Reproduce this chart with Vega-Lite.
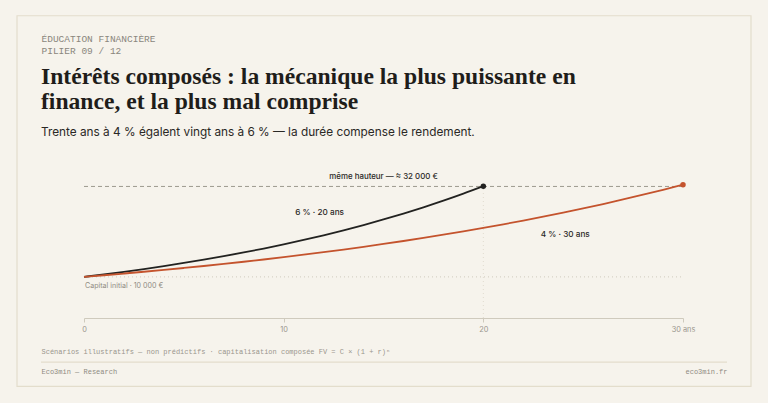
{
  "$schema": "https://vega.github.io/schema/vega-lite/v6.json",
  "width": 599,
  "height": 148,
  "autosize": {"type": "none"},
  "padding": {"left": 84, "top": 170, "right": 85, "bottom": 85},
  "background": "#f6f3ec",
  "config": {"view": {"stroke": null}, "font": "Inter"},
  "title": {
    "text": ["Intérêts composés : la mécanique la plus puissante en", "finance, et la plus mal comprise"],
    "subtitle": "Trente ans à 4 % égalent vingt ans à 6 % — la durée compense le rendement.",
    "anchor": "start",
    "frame": "group",
    "dx": -43,
    "dy": 144,
    "font": "Liberation Serif",
    "fontSize": 23.6,
    "fontWeight": "bold",
    "color": "#1f1d1a",
    "lineHeight": 25,
    "subtitleFont": "Inter",
    "subtitleFontSize": 11.8,
    "subtitleColor": "#2a2825",
    "subtitlePadding": 14,
    "offset": 20
  },
  "datasets": {
    "one": [{}],
    "curves": [
      {"series": "6 % · 20 ans", "year": 0, "value": 10000},
      {"series": "6 % · 20 ans", "year": 1, "value": 10600},
      {"series": "6 % · 20 ans", "year": 2, "value": 11236},
      {"series": "6 % · 20 ans", "year": 3, "value": 11910},
      {"series": "6 % · 20 ans", "year": 4, "value": 12625},
      {"series": "6 % · 20 ans", "year": 5, "value": 13382},
      {"series": "6 % · 20 ans", "year": 6, "value": 14185},
      {"series": "6 % · 20 ans", "year": 7, "value": 15036},
      {"series": "6 % · 20 ans", "year": 8, "value": 15938},
      {"series": "6 % · 20 ans", "year": 9, "value": 16895},
      {"series": "6 % · 20 ans", "year": 10, "value": 17908},
      {"series": "6 % · 20 ans", "year": 11, "value": 18983},
      {"series": "6 % · 20 ans", "year": 12, "value": 20122},
      {"series": "6 % · 20 ans", "year": 13, "value": 21329},
      {"series": "6 % · 20 ans", "year": 14, "value": 22609},
      {"series": "6 % · 20 ans", "year": 15, "value": 23966},
      {"series": "6 % · 20 ans", "year": 16, "value": 25404},
      {"series": "6 % · 20 ans", "year": 17, "value": 26928},
      {"series": "6 % · 20 ans", "year": 18, "value": 28543},
      {"series": "6 % · 20 ans", "year": 19, "value": 30256},
      {"series": "6 % · 20 ans", "year": 20, "value": 32071},
      {"series": "4 % · 30 ans", "year": 0, "value": 10000},
      {"series": "4 % · 30 ans", "year": 1, "value": 10400},
      {"series": "4 % · 30 ans", "year": 2, "value": 10816},
      {"series": "4 % · 30 ans", "year": 3, "value": 11249},
      {"series": "4 % · 30 ans", "year": 4, "value": 11699},
      {"series": "4 % · 30 ans", "year": 5, "value": 12167},
      {"series": "4 % · 30 ans", "year": 6, "value": 12653},
      {"series": "4 % · 30 ans", "year": 7, "value": 13159},
      {"series": "4 % · 30 ans", "year": 8, "value": 13686},
      {"series": "4 % · 30 ans", "year": 9, "value": 14233},
      {"series": "4 % · 30 ans", "year": 10, "value": 14802},
      {"series": "4 % · 30 ans", "year": 11, "value": 15395},
      {"series": "4 % · 30 ans", "year": 12, "value": 16010},
      {"series": "4 % · 30 ans", "year": 13, "value": 16651},
      {"series": "4 % · 30 ans", "year": 14, "value": 17317},
      {"series": "4 % · 30 ans", "year": 15, "value": 18009},
      {"series": "4 % · 30 ans", "year": 16, "value": 18730},
      {"series": "4 % · 30 ans", "year": 17, "value": 19479},
      {"series": "4 % · 30 ans", "year": 18, "value": 20258},
      {"series": "4 % · 30 ans", "year": 19, "value": 21068},
      {"series": "4 % · 30 ans", "year": 20, "value": 21911},
      {"series": "4 % · 30 ans", "year": 21, "value": 22788},
      {"series": "4 % · 30 ans", "year": 22, "value": 23699},
      {"series": "4 % · 30 ans", "year": 23, "value": 24647},
      {"series": "4 % · 30 ans", "year": 24, "value": 25633},
      {"series": "4 % · 30 ans", "year": 25, "value": 26658},
      {"series": "4 % · 30 ans", "year": 26, "value": 27725},
      {"series": "4 % · 30 ans", "year": 27, "value": 28834},
      {"series": "4 % · 30 ans", "year": 28, "value": 29987},
      {"series": "4 % · 30 ans", "year": 29, "value": 31187},
      {"series": "4 % · 30 ans", "year": 30, "value": 32434}
    ],
    "ends": [
      {"series": "6 % · 20 ans", "year": 20, "value": 32071},
      {"series": "4 % · 30 ans", "year": 30, "value": 32434}
    ]
  },
  "layer": [
    {
      "data": {"name": "one"},
      "mark": {"type": "rect", "filled": false, "stroke": "#e3ddcc", "strokeWidth": 1.2},
      "encoding": {
        "x": {"datum": -3.355, "type": "quantitative", "axis": null},
        "x2": {"datum": 33.405},
        "y": {"datum": 73520, "type": "quantitative", "axis": null},
        "y2": {"datum": -16610}
      }
    },
    {
      "data": {"name": "one"},
      "mark": {"type": "rule", "stroke": "#e3ddcc", "strokeWidth": 1.2},
      "encoding": {
        "x": {"datum": -2.153, "type": "quantitative", "axis": null},
        "x2": {"datum": 32.203},
        "y": {"datum": -10750, "type": "quantitative", "axis": null}
      }
    },
    {
      "data": {"name": "one"},
      "mark": {"type": "rule", "stroke": "#cfcabd", "strokeWidth": 1, "strokeDash": [1, 3]},
      "encoding": {
        "x": {"datum": 0, "type": "quantitative", "axis": null},
        "x2": {"datum": 30},
        "y": {"datum": 10000, "type": "quantitative", "axis": null}
      }
    },
    {
      "data": {"name": "one"},
      "mark": {"type": "rule", "stroke": "#e0dbcf", "strokeWidth": 1, "strokeDash": [1, 3]},
      "encoding": {
        "x": {"datum": 20, "type": "quantitative", "axis": null},
        "y": {"datum": 0, "type": "quantitative", "axis": null},
        "y2": {"datum": 32071}
      }
    },
    {
      "data": {"name": "one"},
      "mark": {"type": "rule", "stroke": "#9d998f", "strokeWidth": 1, "strokeDash": [4, 3]},
      "encoding": {
        "x": {"datum": 0, "type": "quantitative",
          "axis": {"orient": "top", "domain": false, "ticks": false, "labels": false, "grid": false,
            "title": "Eco3min — Research", "titleX": -43, "titleY": 201, "titleAlign": "left", "titleBaseline": "middle",
            "titleFont": "Liberation Mono", "titleFontSize": 7, "titleFontWeight": "normal", "titleColor": "#8f8b82", "titleAngle": 0}},
        "x2": {"datum": 30},
        "y": {"datum": 32000, "type": "quantitative",
          "axis": {"orient": "right", "domain": false, "ticks": false, "labels": false, "grid": false,
            "title": "eco3min.fr", "titleX": 44, "titleY": 201, "titleAlign": "right", "titleBaseline": "middle", "titleAngle": 0,
            "titleFont": "Liberation Mono", "titleFontSize": 7, "titleFontWeight": "normal", "titleColor": "#8f8b82"}}
      }
    },
    {
      "data": {"name": "curves"},
      "mark": {"type": "line", "interpolate": "monotone", "strokeWidth": 1.8},
      "encoding": {
        "x": {"field": "year", "type": "quantitative",
          "scale": {"domain": [0, 30], "nice": false, "zero": false},
          "axis": {"orient": "bottom", "values": [0, 10, 20, 30], "labelExpr": "datum.value == 30 ? '30 ans' : datum.label",
            "domainColor": "#cfcabd", "tickColor": "#cfcabd", "tickSize": 4, "labelColor": "#9a968d", "labelFontSize": 7.4,
            "labelPadding": 3, "labelFlush": false, "grid": false,
            "title": "Scénarios illustratifs — non prédictifs · capitalisation composée FV = C × (1 + r)ⁿ",
            "titleFont": "Liberation Mono", "titleFontSize": 7, "titleFontWeight": "normal", "titleColor": "#9a968d",
            "titleX": -43, "titleY": 33, "titleAlign": "left", "titleBaseline": "middle", "titleAnchor": "start"}},
        "y": {"field": "value", "type": "quantitative",
          "scale": {"domain": [0, 36000], "nice": false, "zero": false},
          "axis": {"orient": "left", "domain": false, "ticks": false, "labels": false, "grid": false,
            "title": ["ÉDUCATION FINANCIÈRE", "PILIER 09 / 12"], "titleAngle": 0, "titleX": -43, "titleY": -137,
            "titleAlign": "left", "titleBaseline": "top", "titleLineHeight": 12,
            "titleFont": "Liberation Mono", "titleFontSize": 9.5, "titleFontWeight": "normal", "titleColor": "#8a867d"}},
        "color": {"field": "series", "type": "nominal",
          "scale": {"domain": ["6 % · 20 ans", "4 % · 30 ans"], "range": ["#222220", "#c4532d"]}, "legend": null}
      }
    },
    {
      "data": {"name": "ends"},
      "mark": {"type": "circle", "size": 30, "opacity": 1},
      "encoding": {
        "x": {"field": "year", "type": "quantitative", "axis": null},
        "y": {"field": "value", "type": "quantitative", "axis": null},
        "color": {"field": "series", "type": "nominal", "legend": null}
      }
    },
    {
      "data": {"name": "one"},
      "mark": {"type": "text", "fontSize": 7.9, "fontWeight": 500, "color": "#2a2826", "align": "center", "baseline": "middle", "dy": -9},
      "encoding": {
        "x": {"datum": 15, "type": "quantitative", "axis": null},
        "y": {"datum": 32000, "type": "quantitative", "axis": null},
        "text": {"value": "même hauteur — ≈ 32 000 €"}
      }
    },
    {
      "data": {"name": "one"},
      "mark": {"type": "text", "fontSize": 8.2, "fontWeight": 500, "color": "#2a2826", "align": "center", "baseline": "middle"},
      "encoding": {
        "x": {"datum": 11.8, "type": "quantitative", "axis": null},
        "y": {"datum": 25600, "type": "quantitative", "axis": null},
        "text": {"value": "6 % · 20 ans"}
      }
    },
    {
      "data": {"name": "one"},
      "mark": {"type": "text", "fontSize": 8.2, "fontWeight": 500, "color": "#2a2826", "align": "center", "baseline": "middle"},
      "encoding": {
        "x": {"datum": 24.1, "type": "quantitative", "axis": null},
        "y": {"datum": 20300, "type": "quantitative", "axis": null},
        "text": {"value": "4 % · 30 ans"}
      }
    },
    {
      "data": {"name": "one"},
      "mark": {"type": "text", "fontSize": 7.1, "color": "#8f8b82", "align": "left", "baseline": "middle", "dx": 1, "dy": 9},
      "encoding": {
        "x": {"datum": 0, "type": "quantitative", "axis": null},
        "y": {"datum": 10000, "type": "quantitative", "axis": null},
        "text": {"value": "Capital initial · 10 000 €"}
      }
    }
  ],
  "resolve": {"axis": {"x": "independent", "y": "independent"}}
}
